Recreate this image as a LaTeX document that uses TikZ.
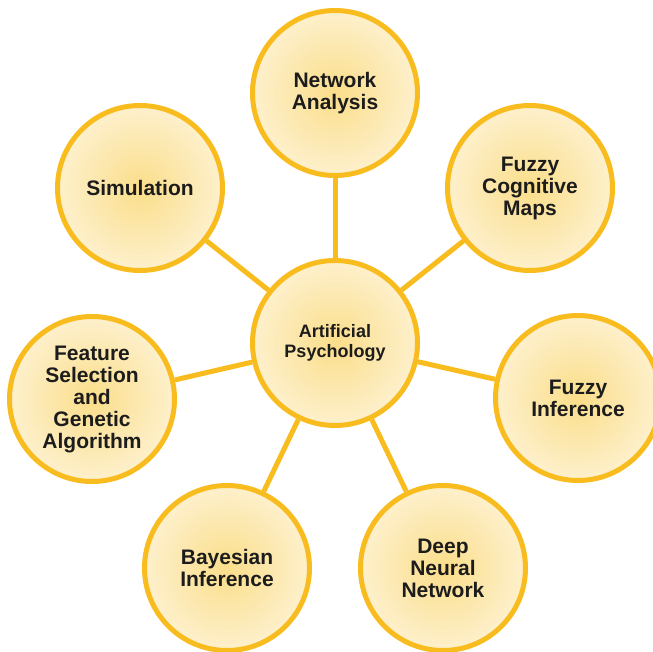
\documentclass[tikz,border=0pt]{standalone}
\usepackage{fontspec}
\setmainfont{Liberation Sans}
\usetikzlibrary{positioning}

\definecolor{ring}{RGB}{249,188,30}
\definecolor{glowin}{RGB}{251,222,138}
\definecolor{glowout}{RGB}{253,240,204}
\definecolor{ink}{RGB}{28,28,28}

\begin{document}
\begin{tikzpicture}[x=1pt,y=-1pt,
  topic/.style={circle,draw=ring,line width=5pt,minimum size=165pt,inner sep=0pt,
    inner color=glowin,outer color=glowout,text=ink,align=center,
    font=\fontsize{21}{22}\selectfont\bfseries},
  link/.style={draw=ring,line width=5pt}]
\useasboundingbox (0,0) rectangle (653,652);
\node[topic,font=\fontsize{18}{20}\selectfont\bfseries] (ap) at (335,343) {Artificial\\Psychology};
\node[topic] (net) at (335,93) {Network\\Analysis};
\node[topic] (fcm) at (530,188) {Fuzzy\\Cognitive\\Maps};
\node[topic] (sim) at (140,188) {Simulation};
\node[topic] (fs) at (92,399) {Feature\\Selection\\and\\Genetic\\Algorithm};
\node[topic] (fi) at (578,398) {Fuzzy\\Inference};
\node[topic] (bi) at (227,568) {Bayesian\\Inference};
\node[topic] (dnn) at (443,568) {Deep\\Neural\\Network};
\foreach \t in {net,fcm,sim,fs,fi,bi,dnn}
  \draw[link] (ap) -- (\t);
\end{tikzpicture}
\end{document}
